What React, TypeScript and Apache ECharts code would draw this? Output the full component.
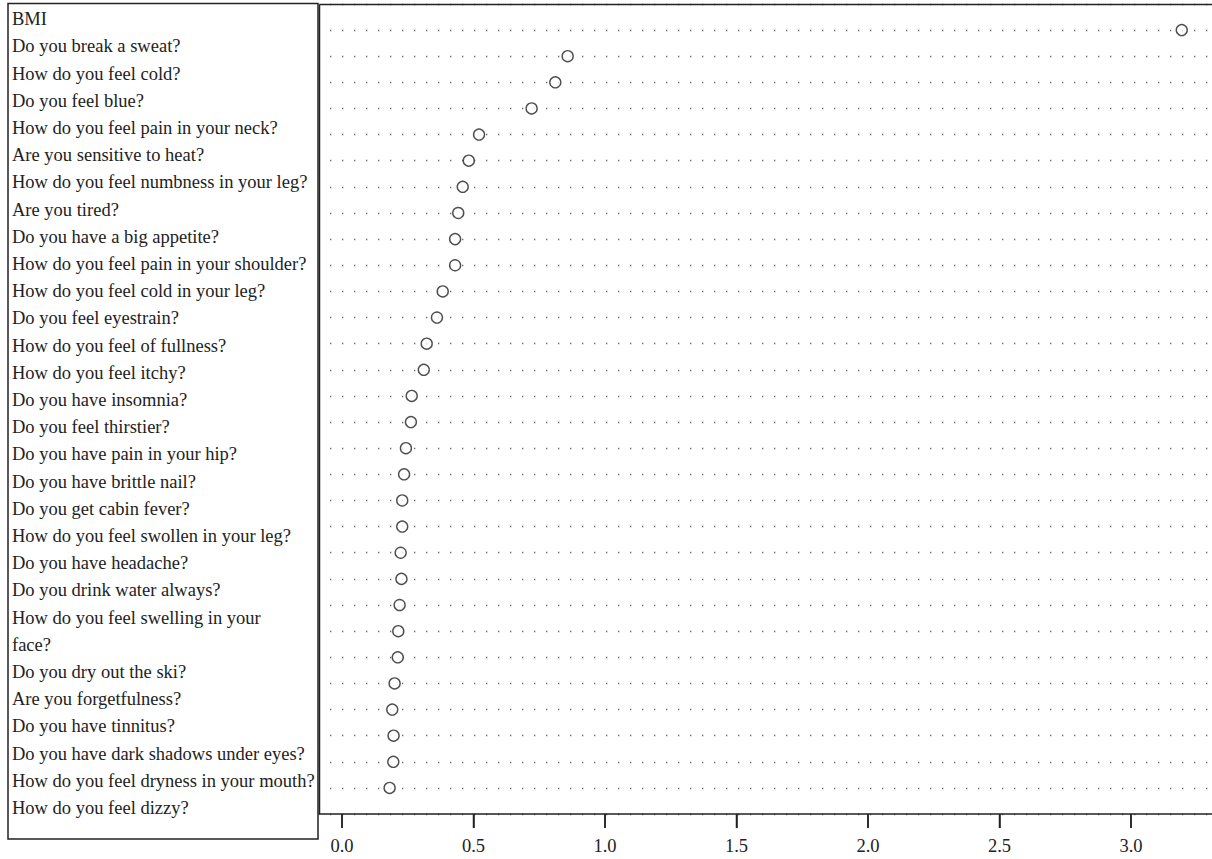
import React, { useEffect, useRef } from "react";
import * as echarts from "echarts";

// Label lines shown in the left panel (one label wraps onto two lines)
const labels: string[] = [
  "BMI",
  "Do you break a sweat?",
  "How do you feel cold?",
  "Do you feel blue?",
  "How do you feel pain in your neck?",
  "Are you sensitive to heat?",
  "How do you feel numbness in your leg?",
  "Are you tired?",
  "Do you have a big appetite?",
  "How do you feel pain in your shoulder?",
  "How do you feel cold in your leg?",
  "Do you feel eyestrain?",
  "How do you feel of fullness?",
  "How do you feel itchy?",
  "Do you have insomnia?",
  "Do you feel thirstier?",
  "Do you have pain in your hip?",
  "Do you have brittle nail?",
  "Do you get cabin fever?",
  "How do you feel swollen in your leg?",
  "Do you have headache?",
  "Do you drink water always?",
  "How do you feel swelling in your\nface?",
  "Do you dry out the ski?",
  "Are you forgetfulness?",
  "Do you have tinnitus?",
  "Do you have dark shadows under eyes?",
  "How do you feel dryness in your mouth?",
  "How do you feel dizzy?",
];

// Dot values, top row first
const values: number[] = [
  3.193, 0.858, 0.811, 0.721, 0.521, 0.482, 0.459, 0.442, 0.43, 0.43,
  0.383, 0.361, 0.322, 0.311, 0.265, 0.262, 0.243, 0.236, 0.229, 0.229,
  0.223, 0.226, 0.219, 0.214, 0.212, 0.2, 0.191, 0.196, 0.195, 0.181,
];

// Row positions: top row sits highest (R dotchart style, ylim 0..n+1)
const rowCount = values.length;
const rowPos: number[] = values.map((_, i) => rowCount - i);
const xTicks: number[] = [0, 0.5, 1, 1.5, 2, 2.5, 3];

const FONT = "'Liberation Serif', 'Times New Roman', serif";
const INK = "#222";

const W = 1212;
const H = 859;
const GRID_LEFT = 319;
const GRID_TOP = 3.9;
const GRID_BOTTOM_Y = 814.1;
const X_MIN = -0.0875;
const X_MAX = 3.308;

export default function App() {
  const ref = useRef<HTMLDivElement>(null);

  useEffect(() => {
    if (!ref.current) return;
    const chart = echarts.init(ref.current, undefined, { renderer: "svg" });

    const buildTicks = (toPx: (t: number) => number, axisY: number) =>
      xTicks.map((t, i) => {
        const px = toPx(t);
        return {
          type: "line",
          id: "tick" + i,
          z: 200,
          zlevel: 1,
          shape: { x1: px, y1: axisY, x2: px, y2: axisY + 14 },
          style: { stroke: INK, lineWidth: 1.5 },
        };
      });

    const linearPx = (t: number) =>
      GRID_LEFT + ((t - X_MIN) / (X_MAX - X_MIN)) * (W - GRID_LEFT);

    const option: any = {
      animation: false,
      backgroundColor: "#fff",
      grid: {
        left: GRID_LEFT,
        top: GRID_TOP,
        right: 0,
        bottom: H - GRID_BOTTOM_Y,
        outerBoundsMode: "none",
      },
      xAxis: {
        type: "value",
        min: X_MIN,
        max: X_MAX,
        axisLine: { show: true, lineStyle: { color: INK, width: 1.5 } },
        axisTick: {
          show: true,
          length: 14,
          customValues: xTicks,
          lineStyle: { color: INK, width: 1.5 },
        },
        axisLabel: {
          customValues: xTicks,
          formatter: (v: number) => v.toFixed(1),
          fontFamily: FONT,
          fontSize: 18.5,
          color: INK,
          margin: 22,
        },
        splitLine: { show: false },
      },
      yAxis: {
        type: "value",
        min: 0,
        max: rowCount + 1,
        interval: 1,
        axisLine: { show: false },
        axisTick: { show: false },
        axisLabel: { show: false },
        splitLine: {
          show: true,
          lineStyle: { color: "#666", width: 1.3, type: [1.3, 10.7], dashOffset: 1.3 },
        },
      },
      series: [
        {
          type: "scatter",
          data: values.map((v, i) => [v, rowPos[i]]),
          symbol: "circle",
          symbolSize: 11,
          itemStyle: { color: "#fff", borderColor: INK, borderWidth: 1.4 },
          z: 5,
        },
      ],
      graphic: [
        {
          type: "rect",
          id: "leftBox",
          z: 100,
          shape: { x: 8, y: 3.5, width: 310, height: 835.5 },
          style: { fill: "none", stroke: INK, lineWidth: 1.5 },
        },
        {
          type: "line",
          id: "topBorder",
          z: 100,
          shape: { x1: 319.5, y1: 4.5, x2: W, y2: 4.5 },
          style: { stroke: INK, lineWidth: 1.5 },
        },
        {
          type: "line",
          id: "leftBorder",
          z: 100,
          shape: { x1: 319.5, y1: 4.5, x2: 319.5, y2: GRID_BOTTOM_Y },
          style: { stroke: INK, lineWidth: 1.5 },
        },
        {
          type: "text",
          id: "labels",
          z: 100,
          x: 12,
          y: 5.5,
          style: {
            text: labels.join("\n"),
            fontFamily: FONT,
            fontSize: 18.5,
            lineHeight: 27.2,
            fill: INK,
            verticalAlign: "top",
            align: "left",
          },
        },
        ...buildTicks(linearPx, GRID_BOTTOM_Y),
      ],
    };
    chart.setOption(option);

    // Refine tick positions with the chart's own scale when available
    try {
      const ay = chart.convertToPixel({ yAxisIndex: 0 }, 0) as number;
      const px0 = chart.convertToPixel({ xAxisIndex: 0 }, 0) as number;
      if (Number.isFinite(ay) && Number.isFinite(px0)) {
        chart.setOption({
          graphic: buildTicks(
            (t) => chart.convertToPixel({ xAxisIndex: 0 }, t) as number,
            ay
          ),
        });
      }
    } catch (e) {
      /* keep the linear fallback */
    }

    return () => chart.dispose();
  }, []);

  return (
    <div
      ref={ref}
      style={{ position: "absolute", left: 0, top: 0, width: W, height: H }}
    />
  );
}
